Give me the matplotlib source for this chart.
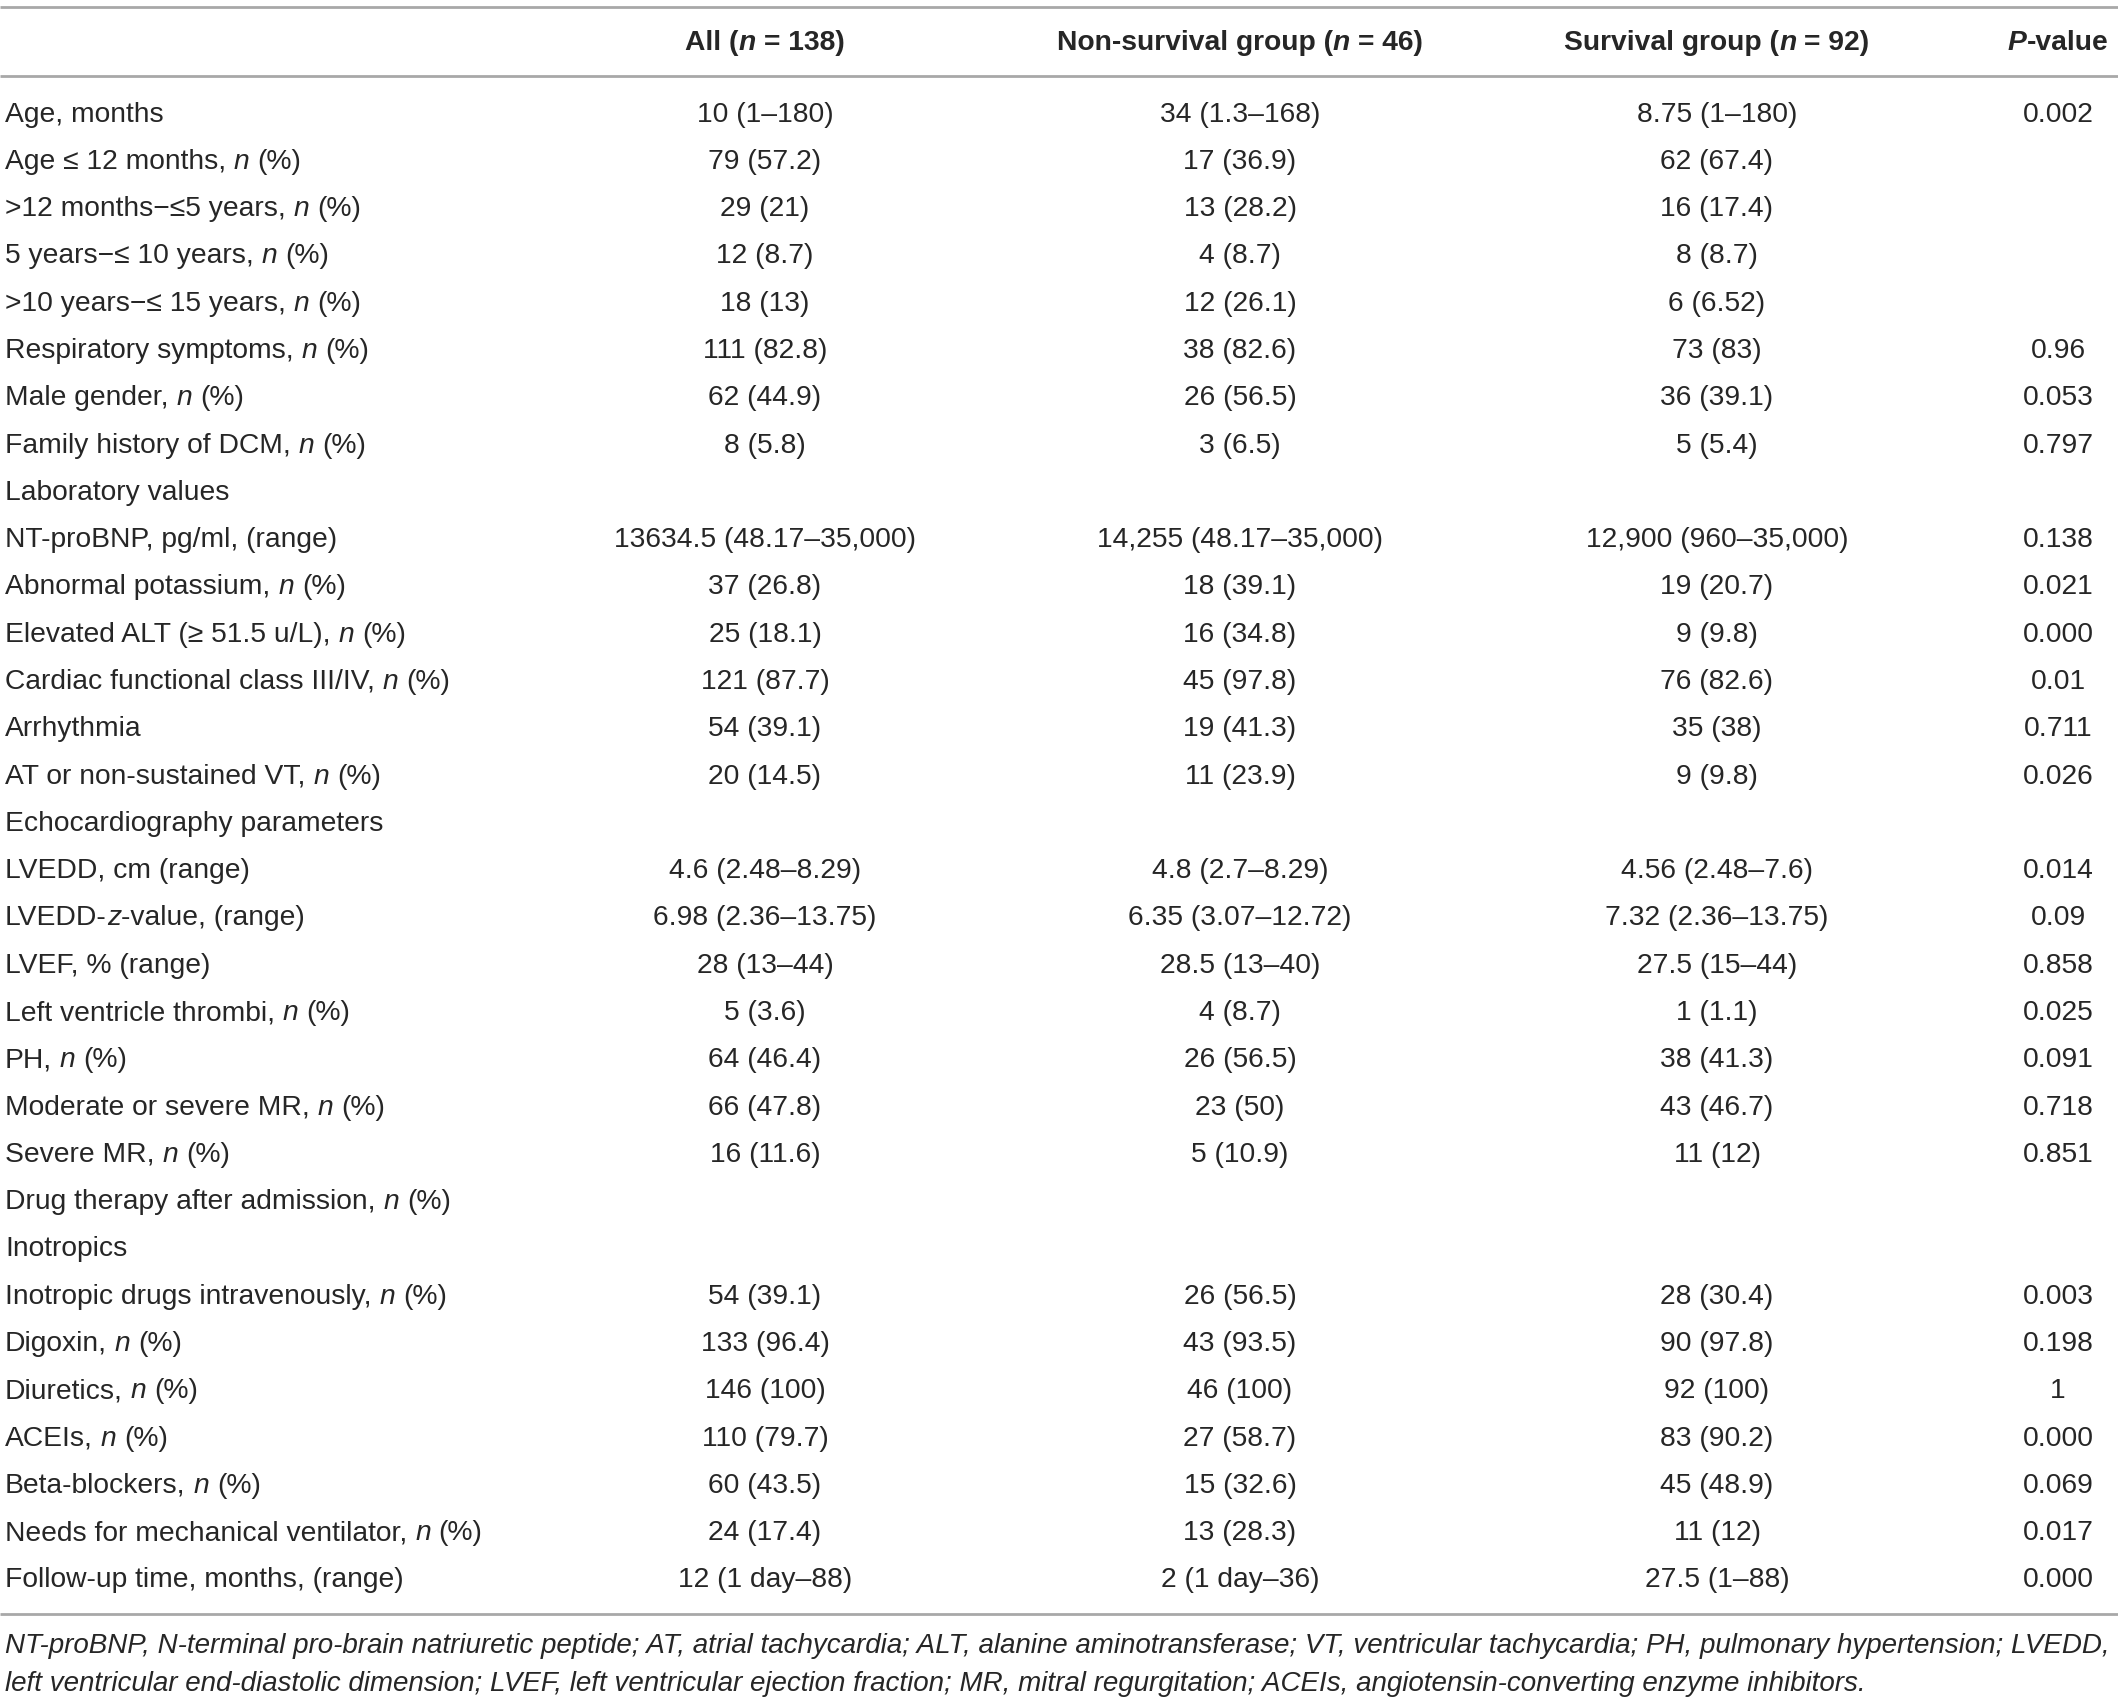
import matplotlib
matplotlib.use("Agg")
import matplotlib.pyplot as plt
from matplotlib.font_manager import FontProperties

# table content
headers = ["All (*n* = 138)", "Non-survival group (*n* = 46)",
           "Survival group (*n* = 92)", "*P*-value"]

labels = [
    "Age, months",
    "Age \u2264 12 months, *n* (%)",
    ">12 months\u2212\u22645 years, *n* (%)",
    "5 years\u2212\u2264 10 years, *n* (%)",
    ">10 years\u2212\u2264 15 years, *n* (%)",
    "Respiratory symptoms, *n* (%)",
    "Male gender, *n* (%)",
    "Family history of DCM, *n* (%)",
    "Laboratory values",
    "NT-proBNP, pg/ml, (range)",
    "Abnormal potassium, *n* (%)",
    "Elevated ALT (\u2265 51.5 u/L), *n* (%)",
    "Cardiac functional class III/IV, *n* (%)",
    "Arrhythmia",
    "AT or non-sustained VT, *n* (%)",
    "Echocardiography parameters",
    "LVEDD, cm (range)",
    "LVEDD-*z*-value, (range)",
    "LVEF, % (range)",
    "Left ventricle thrombi, *n* (%)",
    "PH, *n* (%)",
    "Moderate or severe MR, *n* (%)",
    "Severe MR, *n* (%)",
    "Drug therapy after admission, *n* (%)",
    "Inotropics",
    "Inotropic drugs intravenously, *n* (%)",
    "Digoxin, *n* (%)",
    "Diuretics, *n* (%)",
    "ACEIs, *n* (%)",
    "Beta-blockers, *n* (%)",
    "Needs for mechanical ventilator, *n* (%)",
    "Follow-up time, months, (range)",
]

all_vals = [
    "10 (1\u2013180)", "79 (57.2)", "29 (21)", "12 (8.7)", "18 (13)",
    "111 (82.8)", "62 (44.9)", "8 (5.8)", "",
    "13634.5 (48.17\u201335,000)", "37 (26.8)", "25 (18.1)", "121 (87.7)",
    "54 (39.1)", "20 (14.5)", "",
    "4.6 (2.48\u20138.29)", "6.98 (2.36\u201313.75)", "28 (13\u201344)",
    "5 (3.6)", "64 (46.4)", "66 (47.8)", "16 (11.6)", "", "",
    "54 (39.1)", "133 (96.4)", "146 (100)", "110 (79.7)", "60 (43.5)",
    "24 (17.4)", "12 (1 day\u201388)",
]

nonsurv_vals = [
    "34 (1.3\u2013168)", "17 (36.9)", "13 (28.2)", "4 (8.7)", "12 (26.1)",
    "38 (82.6)", "26 (56.5)", "3 (6.5)", "",
    "14,255 (48.17\u201335,000)", "18 (39.1)", "16 (34.8)", "45 (97.8)",
    "19 (41.3)", "11 (23.9)", "",
    "4.8 (2.7\u20138.29)", "6.35 (3.07\u201312.72)", "28.5 (13\u201340)",
    "4 (8.7)", "26 (56.5)", "23 (50)", "5 (10.9)", "", "",
    "26 (56.5)", "43 (93.5)", "46 (100)", "27 (58.7)", "15 (32.6)",
    "13 (28.3)", "2 (1 day\u201336)",
]

surv_vals = [
    "8.75 (1\u2013180)", "62 (67.4)", "16 (17.4)", "8 (8.7)", "6 (6.52)",
    "73 (83)", "36 (39.1)", "5 (5.4)", "",
    "12,900 (960\u201335,000)", "19 (20.7)", "9 (9.8)", "76 (82.6)",
    "35 (38)", "9 (9.8)", "",
    "4.56 (2.48\u20137.6)", "7.32 (2.36\u201313.75)", "27.5 (15\u201344)",
    "1 (1.1)", "38 (41.3)", "43 (46.7)", "11 (12)", "", "",
    "28 (30.4)", "90 (97.8)", "92 (100)", "83 (90.2)", "45 (48.9)",
    "11 (12)", "27.5 (1\u201388)",
]

p_vals = [
    "0.002", "", "", "", "", "0.96", "0.053", "0.797", "",
    "0.138", "0.021", "0.000", "0.01", "0.711", "0.026", "",
    "0.014", "0.09", "0.858", "0.025", "0.091", "0.718", "0.851", "", "",
    "0.003", "0.198", "1", "0.000", "0.069", "0.017", "0.000",
]

footnote = [
    "NT-proBNP, N-terminal pro-brain natriuretic peptide; AT, atrial tachycardia; "
    "ALT, alanine aminotransferase; VT, ventricular tachycardia; PH, pulmonary hypertension; LVEDD,",
    "left ventricular end-diastolic dimension; LVEF, left ventricular ejection fraction; "
    "MR, mitral regurgitation; ACEIs, angiotensin-converting enzyme inhibitors.",
]

W, H = 2118, 1701
FAMILY = "Liberation Sans"
FS = 20.3
TXT = "#262626"
RULE = "#a8a8a8"

fig = plt.figure(figsize=(W / 100, H / 100), dpi=100)
ax = fig.add_axes([0, 0, 1, 1])
ax.set_xlim(0, W)
ax.set_ylim(H, 0)
ax.set_axis_off()
renderer = fig.canvas.get_renderer()


def prop(weight, italic, size=FS):
    return FontProperties(family=FAMILY, weight=weight,
                          style="italic" if italic else "normal", size=size)


def width_of(s, fp):
    if not s:
        return 0.0
    t = ax.text(0, 0, s, fontproperties=fp)
    w = t.get_window_extent(renderer).width
    t.remove()
    return w


def seg_width(s, fp):
    # keep leading / trailing spaces in the measured advance
    sp = width_of("a a", fp) - width_of("aa", fp)
    core = s.strip(" ")
    lead = len(s) - len(s.lstrip(" "))
    trail = len(s) - len(s.rstrip(" "))
    return width_of(core, fp), lead * sp, trail * sp


def rich(x, y, s, ha="left", weight="normal", italic=False, size=FS):
    parts = s.split("*")
    segs = []
    total = 0.0
    for i, p in enumerate(parts):
        if not p:
            continue
        fp = prop(weight, italic or (i % 2 == 1), size)
        wc, l, t = seg_width(p, fp)
        segs.append((p.strip(" "), fp, wc, l, t))
        total += wc + l + t
    if ha == "center":
        cx = x - total / 2
    elif ha == "right":
        cx = x - total
    else:
        cx = x
    for core, fp, wc, l, t in segs:
        cx += l
        if core:
            ax.text(cx, y, core, fontproperties=fp, color=TXT,
                    ha="left", va="center")
        cx += wc + t


col_x = [765, 1240, 1717, 2058]
label_x = 5
header_y = 43.5
row0, row_step = 114.5, 47.29

# rules
for yy in (7, 76, 1614):
    ax.plot([0, W], [yy, yy], color=RULE, lw=2.0, solid_capstyle="butt")

for cx, h in zip(col_x, headers):
    rich(cx, header_y, h, ha="center", weight="bold")

for i, lab in enumerate(labels):
    y = row0 + i * row_step
    rich(label_x, y, lab)
    for cx, col in zip(col_x, (all_vals, nonsurv_vals, surv_vals, p_vals)):
        if col[i]:
            rich(cx, y, col[i], ha="center")

for j, line in enumerate(footnote):
    rich(label_x, 1646 + j * 38, line, italic=True, size=19.95)

fig.savefig("out.png", dpi=100, facecolor="white")
